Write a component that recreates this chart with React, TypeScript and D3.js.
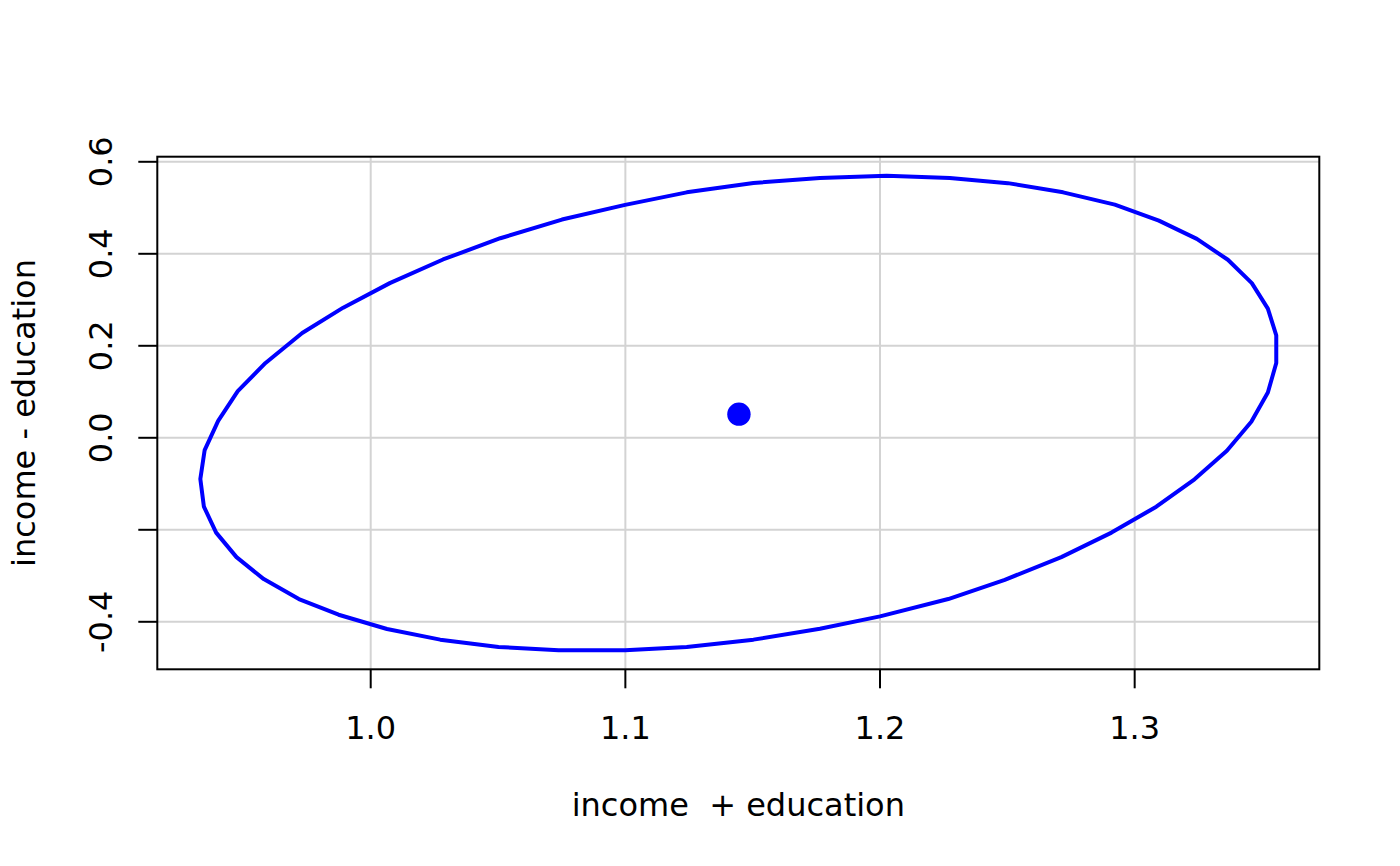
import React, { useEffect, useRef } from "react";
import * as d3 from "d3";

// ellipse outline (income + education, income - education)
const ellipseX = [
  0.9331, 0.9348, 0.9401, 0.9478, 0.9587, 0.9731, 0.9892, 1.0075, 1.0284, 1.0509,
  1.0751, 1.0999, 1.1241, 1.1503, 1.1764, 1.2026, 1.2274, 1.2502, 1.2719, 1.2922,
  1.3095, 1.3244, 1.3366, 1.346, 1.3523, 1.3556, 1.3556, 1.3523, 1.3458, 1.3362,
  1.3235, 1.3085, 1.2909, 1.2712, 1.249, 1.2268, 1.2, 1.1764, 1.1503, 1.1241,
  1.0999, 1.0738, 1.0502, 1.0273, 1.0064, 0.9874, 0.9718, 0.958, 0.9473, 0.9393,
  0.9345,
];
const ellipseY = [
  -0.0896, -0.0267, 0.0369, 0.1013, 0.1627, 0.2278, 0.2829, 0.3362, 0.3876, 0.4338,
  0.4744, 0.5063, 0.5336, 0.554, 0.5649, 0.5698, 0.5649, 0.5536, 0.5336, 0.5069,
  0.4722, 0.4325, 0.387, 0.3362, 0.2807, 0.2228, 0.1627, 0.0985, 0.0347, -0.0282,
  -0.0902, -0.1497, -0.2061, -0.2594, -0.3087, -0.3505, -0.3883, -0.415, -0.4388, -0.4547,
  -0.462, -0.462, -0.4547, -0.4388, -0.4156, -0.3846, -0.3505, -0.3072, -0.2594, -0.2061,
  -0.1497,
];
const centre = { x: 1.1446, y: 0.0514 };

const xTicks = [1.0, 1.1, 1.2, 1.3];
const xTickLabels = ["1.0", "1.1", "1.2", "1.3"];
const yTicks = [-0.4, -0.2, 0.0, 0.2, 0.4, 0.6];
const yTickLabels = ["-0.4", "", "0.0", "0.2", "0.4", "0.6"]; // R drops -0.2 (overlap)

const xLabel = "income  + education";
const yLabel = "income - education";

const W = 1400;
const H = 866;
const box = { left: 157.3, right: 1319.3, top: 156.7, bottom: 669.3 };
const FONT = "DejaVu Sans, Liberation Sans, sans-serif";

// R style axis range: data range padded by 4%
const padRange = (vals: number[]): [number, number] => {
  const [lo, hi] = d3.extent(vals) as [number, number];
  const p = (hi - lo) * 0.04;
  return [lo - p, hi + p];
};

const App: React.FC = () => {
  const svgRef = useRef<SVGSVGElement>(null);

  useEffect(() => {
    if (!svgRef.current) return;
    const svg = d3.select(svgRef.current);
    svg.selectAll("*").remove();

    const x = d3.scaleLinear().domain(padRange(ellipseX)).range([box.left, box.right]);
    const y = d3.scaleLinear().domain(padRange(ellipseY)).range([box.bottom, box.top]);

    svg.append("rect").attr("width", W).attr("height", H).attr("fill", "#fff");

    // grid
    const grid = svg.append("g").attr("stroke", "#d3d3d3").attr("stroke-width", 2);
    grid.selectAll("line.gx")
      .data(xTicks)
      .join("line")
      .attr("x1", d => x(d)).attr("x2", d => x(d))
      .attr("y1", box.top).attr("y2", box.bottom);
    grid.selectAll("line.gy")
      .data(yTicks)
      .join("line")
      .attr("x1", box.left).attr("x2", box.right)
      .attr("y1", d => y(d)).attr("y2", d => y(d));

    // ellipse
    const pts = ellipseX.map((v, i) => [v, ellipseY[i]] as [number, number]);
    const line = d3.line<[number, number]>()
      .x(d => x(d[0]))
      .y(d => y(d[1]))
      .curve(d3.curveLinearClosed);
    svg.append("path")
      .attr("d", line(pts))
      .attr("fill", "none")
      .attr("stroke", "#0000ff")
      .attr("stroke-width", 4)
      .attr("stroke-linejoin", "round");

    svg.append("circle")
      .attr("cx", x(centre.x))
      .attr("cy", y(centre.y))
      .attr("r", 11.7)
      .attr("fill", "#0000ff");

    // box
    svg.append("rect")
      .attr("x", box.left).attr("y", box.top)
      .attr("width", box.right - box.left).attr("height", box.bottom - box.top)
      .attr("fill", "none").attr("stroke", "#000").attr("stroke-width", 2);

    // x axis
    const xa = svg.append("g");
    xa.selectAll("line")
      .data(xTicks)
      .join("line")
      .attr("x1", d => x(d)).attr("x2", d => x(d))
      .attr("y1", box.bottom).attr("y2", box.bottom + 19)
      .attr("stroke", "#000").attr("stroke-width", 2);
    xa.selectAll("text")
      .data(xTicks)
      .join("text")
      .attr("x", d => x(d))
      .attr("y", box.bottom + 70)
      .attr("text-anchor", "middle")
      .attr("font-family", FONT)
      .attr("font-size", 32)
      .text((_, i) => xTickLabels[i]);

    // y axis
    const ya = svg.append("g");
    ya.selectAll("line")
      .data(yTicks)
      .join("line")
      .attr("x1", box.left - 19).attr("x2", box.left)
      .attr("y1", d => y(d)).attr("y2", d => y(d))
      .attr("stroke", "#000").attr("stroke-width", 2);
    ya.selectAll("text")
      .data(yTicks)
      .join("text")
      .attr("transform", d => `translate(111.5,${y(d)}) rotate(-90)`)
      .attr("text-anchor", "middle")
      .attr("font-family", FONT)
      .attr("font-size", 32)
      .text((_, i) => yTickLabels[i]);

    // titles
    svg.append("text")
      .attr("x", (box.left + box.right) / 2)
      .attr("y", 816)
      .attr("text-anchor", "middle")
      .attr("font-family", FONT)
      .attr("font-size", 32)
      .attr("xml:space", "preserve")
      .style("white-space", "pre")
      .text(xLabel);
    svg.append("text")
      .attr("transform", `translate(35,${(box.top + box.bottom) / 2}) rotate(-90)`)
      .attr("text-anchor", "middle")
      .attr("font-family", FONT)
      .attr("font-size", 32)
      .text(yLabel);
  }, []);

  return (
    <svg
      ref={svgRef}
      width={W}
      height={H}
      style={{ position: "absolute", left: 0, top: 0, display: "block" }}
    />
  );
};

export default App;
